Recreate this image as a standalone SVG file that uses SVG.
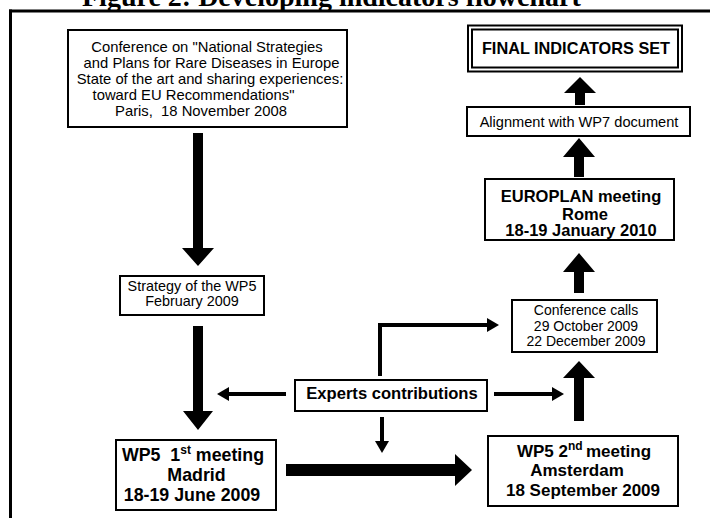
<svg xmlns="http://www.w3.org/2000/svg" width="710" height="518" viewBox="0 0 710 518">
<defs>
<style>
.box{fill:#fff;stroke:#000;stroke-width:2}
.t{font-family:"Liberation Sans",Arial,sans-serif;fill:#000;text-anchor:middle}
.b{font-weight:bold}
.blk{fill:#000;stroke:none}
.thin{fill:none;stroke:#000;stroke-width:4;marker-end:url(#ah)}
</style>
<marker id="ah" markerUnits="userSpaceOnUse" markerWidth="12" markerHeight="14" refX="0" refY="7" orient="auto">
<path d="M0,0 L12,7 L0,14 Z" fill="#000"/>
</marker>
</defs>
<rect width="710" height="518" fill="#fff"/>
<text x="82" y="6" font-family="Liberation Serif,'Times New Roman',serif" font-weight="bold" font-size="28" fill="#000">Figure 2: Developing indicators flowchart</text>
<g id="frame">
<line x1="9" y1="11" x2="710" y2="11" stroke="#000" stroke-width="3"/>
<line x1="10.5" y1="9.5" x2="10.5" y2="518" stroke="#000" stroke-width="3"/>
</g>
<g id="connectors">
<polygon class="blk" points="193,133 203,133 203,248 214,248 198,266 182,248 193,248"/>
<polygon class="blk" points="193,326 203,326 203,411 213,411 198,430 183,411 193,411"/>
<polygon class="blk" points="286,464 455,464 455,454 472,470 455,486 455,476 286,476"/>
<polygon class="blk" points="574,421 574,378 563,378 579,361 595,378 584,378 584,421"/>
<polygon class="blk" points="574,293 574,272 563,272 579,253 595,272 584,272 584,293"/>
<polygon class="blk" points="574,177 574,157 563,157 579,138 595,157 584,157 584,177"/>
<polygon class="blk" points="575,105 575,93 564,93 580,77 596,93 585,93 585,105"/>
<path class="thin" d="M286,394 H229"/>
<path class="thin" d="M494,394 H552"/>
<path class="thin" d="M382,417 V441"/>
<path class="thin" d="M380,376 V325 H487"/>
</g>
<g id="conference">
<rect class="box" x="68" y="30" width="279" height="97" stroke-width="1.5"/>
<text class="t" font-size="14.8"><tspan x="207" y="52">Conference on "National Strategies</tspan><tspan x="211.5" y="68">and Plans for Rare Diseases in Europe</tspan><tspan x="210" y="84">State of the art and sharing experiences:</tspan><tspan x="193.5" y="100">toward EU Recommendations"</tspan><tspan x="201" y="115.5">Paris,&#160; 18 November 2008</tspan></text>
</g>
<g id="strategy">
<rect class="box" x="120" y="276" width="144" height="39" stroke-width="1.5"/>
<text class="t" font-size="14.4"><tspan x="192" y="291">Strategy of the WP5</tspan><tspan x="192" y="306">February 2009</tspan></text>
</g>
<g id="madrid">
<rect class="box" x="116" y="440" width="160" height="70"/>
<text class="t b" font-size="17.8"><tspan x="193" y="461">WP5&#160; 1<tspan font-size="12" dy="-7">st</tspan><tspan dy="7"> meeting</tspan></tspan><tspan x="196.5" y="481">Madrid</tspan><tspan x="192" y="501">18-19 June 2009</tspan></text>
</g>
<g id="experts">
<rect class="box" x="295" y="380" width="192" height="31"/>
<text class="t b" font-size="16.6" x="392" y="399">Experts contributions</text>
</g>
<g id="amsterdam">
<rect class="box" x="488" y="436" width="190" height="70"/>
<text class="t b" font-size="17"><tspan x="584" y="457">WP5 2<tspan font-size="12" dy="-7">nd </tspan><tspan dy="7">meeting</tspan></tspan><tspan x="577" y="476">Amsterdam</tspan><tspan x="583" y="496">18 September 2009</tspan></text>
</g>
<g id="calls">
<rect class="box" x="512" y="300" width="145" height="52" stroke-width="1.5"/>
<text class="t" font-size="14"><tspan x="586" y="315">Conference calls</tspan><tspan x="586" y="331">29 October 2009</tspan><tspan x="586" y="345.5">22 December 2009</tspan></text>
</g>
<g id="europlan">
<rect class="box" x="485" y="179" width="189" height="61"/>
<text class="t b" font-size="16.5"><tspan x="581" y="201.5">EUROPLAN meeting</tspan><tspan x="585" y="219.5">Rome</tspan><tspan x="581" y="236">18-19 January 2010</tspan></text>
</g>
<g id="alignment">
<rect class="box" x="467" y="107" width="223" height="29"/>
<text class="t" font-size="14.6" x="579" y="127">Alignment with WP7 document</text>
</g>
<g id="final">
<rect class="box" x="468" y="25.5" width="214" height="46" stroke-width="1.5"/>
<rect class="box" x="472" y="29.5" width="206" height="38" stroke-width="1.5"/>
<text class="t b" font-size="16.3" x="576" y="54">FINAL INDICATORS SET</text>
</g>
</svg>
